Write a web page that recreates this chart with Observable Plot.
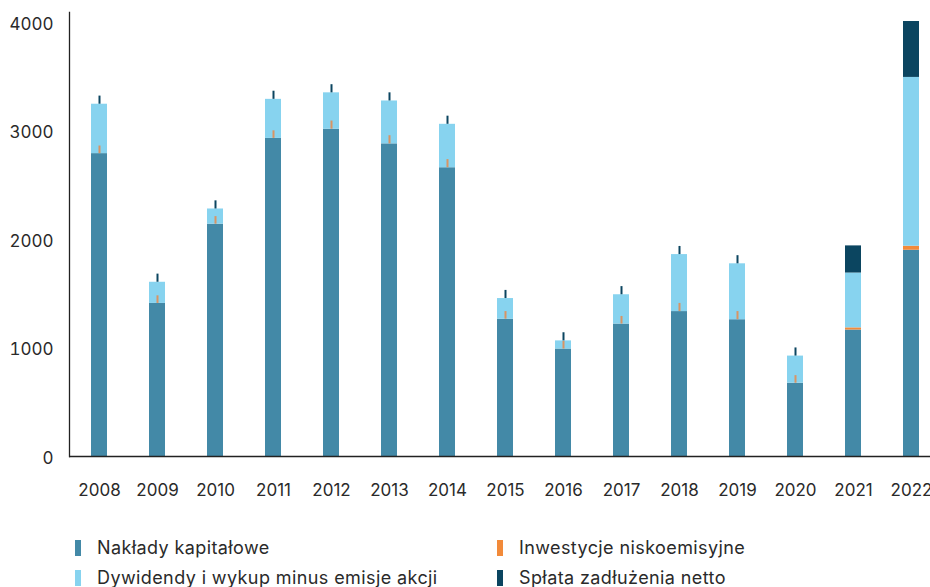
<!DOCTYPE html>
<html>
<head>
<meta charset="utf-8">
<script src="https://cdn.jsdelivr.net/npm/d3@7"></script>
<script src="https://cdn.jsdelivr.net/npm/@observablehq/plot@0.6"></script>
<style>
  html, body { margin: 0; padding: 0; background: #fff; overflow: hidden; width: 930px; height: 587px; }
  body { font-family: Inter, "Open Sans", sans-serif; color: #2a2a2a; }
  #chart svg { display: block; }
  .legend { position: relative; height: 87px; }
  .item { position: absolute; display: flex; align-items: center; font-size: 18px; letter-spacing: 0.4px; line-height: 20px; }
  .sw { width: 6px; height: 16px; margin-right: 16px; }
</style>
</head>
<body>
<div id="chart"></div>
<div class="legend" id="legend"></div>
<script>
const years = ["2008","2009","2010","2011","2012","2013","2014","2015","2016","2017","2018","2019","2020","2021","2022"];
const naklady      = [2790, 1410, 2140, 2930, 3015, 2880, 2660, 1265, 990, 1220, 1335, 1260, 675, 1165, 1900];
const niskoemisyjne = [0, 0, 0, 0, 0, 0, 0, 0, 0, 0, 0, 0, 0, 20, 37];
const dywidendy    = [455, 195, 140, 360, 335, 395, 400, 190, 75, 270, 525, 515, 250, 505, 1555];
const splata       = [0, 0, 0, 0, 0, 0, 0, 0, 0, 0, 0, 0, 0, 250, 515];
// thin marker lines shown on bars (in value units)
const niskoTick    = [70, 70, 70, 70, 75, 75, 75, 70, 70, 70, 75, 75, 70, null, null];
const splataTick   = [75, 75, 75, 75, 75, 75, 75, 75, 75, 75, 75, 75, 75, null, null];
const seriesNames  = ["Nakłady kapitałowe", "Inwestycje niskoemisyjne", "Dywidendy i wykup minus emisje akcji", "Spłata zadłużenia netto"];
const seriesColors = ["#4389A7", "#F28A3A", "#87D3EF", "#0B4560"];
const yTicks = [0, 1000, 2000, 3000, 4000];

const seriesValues = [naklady, niskoemisyjne, dywidendy, splata];
const data = [];
years.forEach((yr, i) => {
  seriesNames.forEach((s, k) => data.push({year: yr, series: s, value: seriesValues[k][i]}));
});
const ticksOrange = years.map((yr, i) => ({year: yr, y1: naklady[i], y2: niskoTick[i] == null ? null : naklady[i] + niskoTick[i]})).filter(d => d.y2 != null);
const ticksDark = years.map((yr, i) => {
  const top = naklady[i] + niskoemisyjne[i] + dywidendy[i] + splata[i];
  return {year: yr, y1: top, y2: splataTick[i] == null ? null : top + splataTick[i]};
}).filter(d => d.y2 != null);

const chart = Plot.plot({
  width: 930,
  height: 500,
  marginLeft: 69,
  marginRight: 0,
  marginTop: 12,
  marginBottom: 44,
  style: {fontFamily: "Inter, 'Open Sans', sans-serif", fontSize: "17px", color: "#2a2a2a", background: "#fff"},
  x: {domain: years, range: [69, 941], paddingInner: 0.725, paddingOuter: 0.361, label: null},
  y: {domain: [0, 4090], label: null},
  color: {domain: seriesNames, range: seriesColors},
  marks: [
    Plot.barY(data, Plot.stackY({x: "year", y: "value", fill: "series", order: null})),
    Plot.ruleX(ticksOrange, {x: "year", y1: "y1", y2: "y2", stroke: "#E8884A", strokeWidth: 2, strokeOpacity: 0.85}),
    Plot.ruleX(ticksDark, {x: "year", y1: "y1", y2: "y2", stroke: "#0B4560", strokeWidth: 2}),
    Plot.axisY({ticks: yTicks, tickFormat: d => String(d), tickSize: 0, tickPadding: 16, dy: 2, fontSize: 17, label: null}),
    Plot.axisX({tickSize: 0, tickPadding: 27, fontSize: 17, label: null}),
    Plot.ruleY([0], {stroke: "#222", strokeWidth: 1.3}),
    Plot.frame({anchor: "left", stroke: "#222", strokeWidth: 1.3})
  ]
});
document.getElementById("chart").appendChild(chart);

const legend = document.getElementById("legend");
const legendPos = [
  {name: seriesNames[0], color: seriesColors[0], left: 75, top: 38},
  {name: seriesNames[1], color: seriesColors[1], left: 497, top: 38},
  {name: seriesNames[2], color: seriesColors[2], left: 75, top: 68},
  {name: seriesNames[3], color: seriesColors[3], left: 497, top: 68}
];
legendPos.forEach(p => {
  const el = document.createElement("div");
  el.className = "item";
  el.style.left = p.left + "px";
  el.style.top = p.top + "px";
  el.innerHTML = `<span class="sw" style="background:${p.color}"></span><span>${p.name}</span>`;
  legend.appendChild(el);
});
</script>
</body>
</html>
